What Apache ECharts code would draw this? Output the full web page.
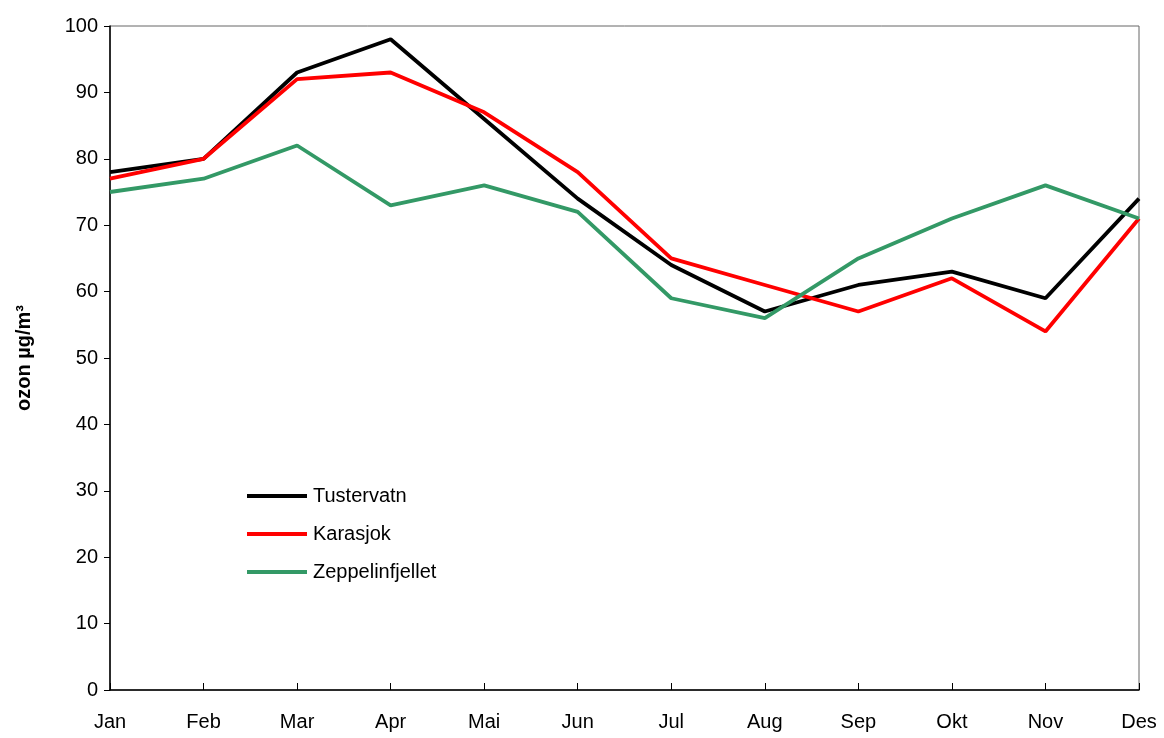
<!DOCTYPE html>
<html>
<head>
<meta charset="utf-8">
<script src="https://cdn.jsdelivr.net/npm/echarts@6/dist/echarts.min.js"></script>
<style>
  html, body { margin: 0; padding: 0; background: #fff; }
  #chart { width: 1164px; height: 738px; }
</style>
</head>
<body>
<div id="chart"></div>
<script>
var months = ["Jan", "Feb", "Mar", "Apr", "Mai", "Jun", "Jul", "Aug", "Sep", "Okt", "Nov", "Des"];
var tustervatn = [78, 80, 93, 98, 86, 74, 64, 57, 61, 63, 59, 74];
var karasjok = [77, 80, 92, 93, 87, 78, 65, 61, 57, 62, 54, 71];
var zeppelinfjellet = [75, 77, 82, 73, 76, 72, 59, 56, 65, 71, 76, 71];

var font = "'Liberation Sans', Arial, sans-serif";

function line(name, color, data) {
  return {
    name: name,
    type: "line",
    data: data,
    symbol: "none",
    lineStyle: { color: color, width: 3.8 },
    itemStyle: { color: color },
    z: 3
  };
}

var myChart = echarts.init(document.getElementById("chart"));
myChart.setOption({
  animation: false,
  textStyle: { fontFamily: font },
  grid: {
    left: 110,
    right: 25,
    top: 26,
    bottom: 48,
    show: true,
    borderColor: "#666",
    borderWidth: 1
  },
  legend: {
    orient: "vertical",
    left: 242,
    top: 481,
    icon: "rect",
    itemWidth: 60,
    itemHeight: 4,
    itemGap: 18,
    data: ["Tustervatn", "Karasjok", "Zeppelinfjellet"],
    textStyle: { fontSize: 20, color: "#000", fontFamily: font, padding: [0, 0, 0, 1] }
  },
  xAxis: {
    type: "category",
    data: months,
    boundaryGap: false,
    axisLine: { lineStyle: { color: "#000", width: 1.5 } },
    axisTick: { inside: true, length: 7, alignWithLabel: true, lineStyle: { color: "#000" } },
    axisLabel: { fontSize: 20, color: "#000", margin: 22, fontFamily: font },
    splitLine: { show: false }
  },
  yAxis: {
    type: "value",
    min: 0,
    max: 100,
    interval: 10,
    name: "ozon µg/m³",
    nameLocation: "middle",
    nameRotate: 90,
    nameGap: 76,
    nameTextStyle: { fontSize: 20, fontWeight: "bold", color: "#000", fontFamily: font },
    axisLine: { show: true, lineStyle: { color: "#000", width: 1.5 } },
    axisTick: { show: true, length: 6, lineStyle: { color: "#000" } },
    axisLabel: { fontSize: 20, color: "#000", margin: 12, fontFamily: font },
    splitLine: { show: false }
  },
  series: [
    line("Tustervatn", "#000000", tustervatn),
    line("Karasjok", "#ff0000", karasjok),
    line("Zeppelinfjellet", "#339966", zeppelinfjellet)
  ]
});
</script>
</body>
</html>
